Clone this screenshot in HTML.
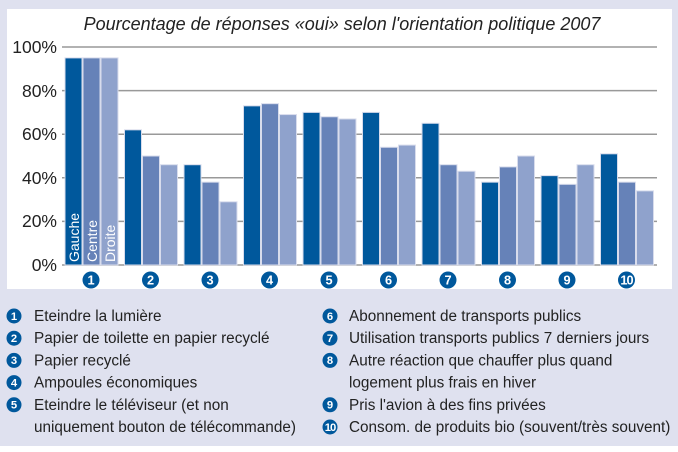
<!DOCTYPE html>
<html><head><meta charset="utf-8"><style>
body{margin:0;width:678px;height:452px;background:#fff;overflow:hidden}
svg{display:block}
text{font-family:"Liberation Sans",sans-serif}
</style></head><body>
<svg width="678" height="452" viewBox="0 0 678 452">
<rect x="0" y="0" width="678" height="446" fill="#dfe1ef"/>
<rect x="7" y="9" width="665" height="280" fill="#fff"/>
<text x="342" y="30" text-anchor="middle" font-size="18" font-style="italic" fill="#222">Pourcentage de réponses «oui» selon l'orientation politique 2007</text>
<g stroke="#999" stroke-width="1.5">
<line x1="62" y1="47" x2="657" y2="47"/>
<line x1="62" y1="90.6" x2="657" y2="90.6"/>
<line x1="62" y1="134.2" x2="657" y2="134.2"/>
<line x1="62" y1="177.8" x2="657" y2="177.8"/>
<line x1="62" y1="221.4" x2="657" y2="221.4"/>
<line x1="62" y1="265" x2="657" y2="265"/>
</g>
<g font-size="17.5" fill="#222" text-anchor="end">
<text x="57" y="53">100%</text><text x="57" y="97">80%</text><text x="57" y="140">60%</text>
<text x="57" y="184">40%</text><text x="57" y="227">20%</text><text x="57" y="271">0%</text>
</g>
<g id="bars" stroke="#d8dcec" stroke-width="1"></g>
<g id="nums"></g>
<g font-size="14" fill="#fff">
<text transform="translate(79,262) rotate(-90)">Gauche</text>
<text transform="translate(97,262) rotate(-90)">Centre</text>
<text transform="translate(115,262) rotate(-90)">Droite</text>
</g>
<g id="leg" font-size="15.3" fill="#222"></g>
</svg>
<script>
var d=[[95,95,95],[62,50,46],[46,38,29],[73,74,69],[70,68,67],[70,54,55],[65,46,43],[38,45,50],[41,37,46],[51,38,34]];
var c=["#00589c","#6682b8","#8fa2cc"];var ns="http://www.w3.org/2000/svg";
var b=document.getElementById("bars"),n=document.getElementById("nums"),L=document.getElementById("leg");
function el(p,t,a,tx){var e=document.createElementNS(ns,t);for(var k in a)e.setAttribute(k,a[k]);if(tx)e.textContent=tx;p.appendChild(e);return e;}
function badge(p,cx,cy,k,r){el(p,"circle",{cx:cx,cy:cy,r:r,fill:"#00589c"});el(p,"text",{x:cx,y:cy+r*0.5,"text-anchor":"middle","font-size":r*1.5,"font-weight":"bold",fill:"#fff","font-family":"Liberation Sans",style:k>9?"letter-spacing:-1px":""},k);}
d.forEach(function(g,i){var x0=65+59.5*i;g.forEach(function(v,j){var h=v*2.18;el(b,"rect",{x:x0+j*18,y:265-h,width:17,height:h,fill:c[j]});});badge(n,x0+26,280,i+1,8.5);});
var l=[["Eteindre la lumière"],["Papier de toilette en papier recyclé"],["Papier recyclé"],["Ampoules économiques"],["Eteindre le téléviseur (et non","uniquement bouton de télécommande)"]];
var r=[["Abonnement de transports publics"],["Utilisation transports publics 7 derniers jours"],["Autre réaction que chauffer plus quand","logement plus frais en hiver"],["Pris l'avion à des fins privées"],["Consom. de produits bio (souvent/très souvent)"]];
function col(arr,cx,tx,off){var y=321;arr.forEach(function(a,i){badge(L,cx,y-5,i+1+off,7.5);a.forEach(function(s){el(L,"text",{x:tx,y:y},s);y+=22.2;});});}
col(l,14,34,0);col(r,330,349,5);
</script>
</body></html>
